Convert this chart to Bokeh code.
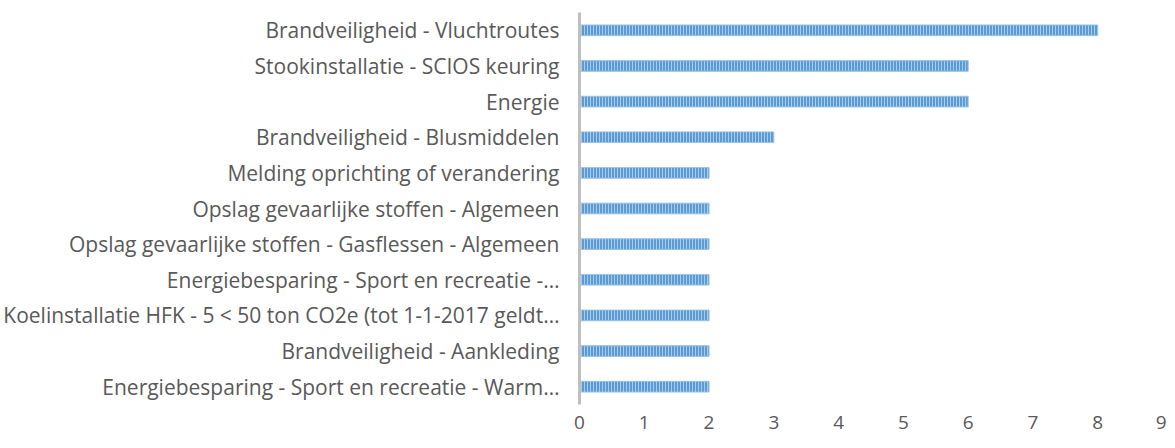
from bokeh.plotting import figure
from bokeh.models import FactorRange, Range1d, FixedTicker
from bokeh.embed import file_html
from bokeh.resources import INLINE

categories = [
    "Brandveiligheid - Vluchtroutes",
    "Stookinstallatie - SCIOS keuring",
    "Energie",
    "Brandveiligheid - Blusmiddelen",
    "Melding oprichting of verandering",
    "Opslag gevaarlijke stoffen - Algemeen",
    "Opslag gevaarlijke stoffen - Gasflessen - Algemeen",
    "Energiebesparing - Sport en recreatie -…",
    "Koelinstallatie HFK - 5 < 50 ton CO2e (tot 1-1-2017 geldt…",
    "Brandveiligheid - Aankleding",
    "Energiebesparing - Sport en recreatie - Warm…",
]
values = [8, 6, 6, 3, 2, 2, 2, 2, 2, 2, 2]
x_ticks = [0, 1, 2, 3, 4, 5, 6, 7, 8, 9]

FONT = "Open Sans"
TEXT = "#595959"

p = figure(
    width=1166, height=440,
    y_range=FactorRange(factors=list(reversed(categories))),
    x_range=Range1d(0, 9),
    output_backend="svg", toolbar_location=None,
    min_border_left=575, min_border_right=4, min_border_top=12, min_border_bottom=36,
)
p.hbar(y=categories, right=values, left=0, height=0.30,
       fill_color="#5b9bd5", line_color="#9dc3e6", line_width=1,
       hatch_pattern="|", hatch_color="#a9cbec", hatch_scale=3, hatch_weight=1)

p.outline_line_color = None
p.grid.visible = False

p.xaxis.ticker = FixedTicker(ticks=x_ticks)
p.xaxis.axis_line_color = None
p.xaxis.major_tick_line_color = None
p.xaxis.minor_tick_line_color = None
p.xaxis.major_label_standoff = 5
p.xaxis.major_label_text_font = FONT
p.xaxis.major_label_text_font_size = "19px"
p.xaxis.major_label_text_color = TEXT

p.yaxis.axis_line_color = "#bfbfbf"
p.yaxis.axis_line_width = 3
p.yaxis.major_tick_line_color = None
p.yaxis.minor_tick_line_color = None
p.yaxis.major_label_standoff = 14
p.yaxis.major_label_text_font = FONT
p.yaxis.major_label_text_font_size = "21px"
p.yaxis.major_label_text_color = TEXT

open("out.html", "w").write(file_html(p, INLINE))
